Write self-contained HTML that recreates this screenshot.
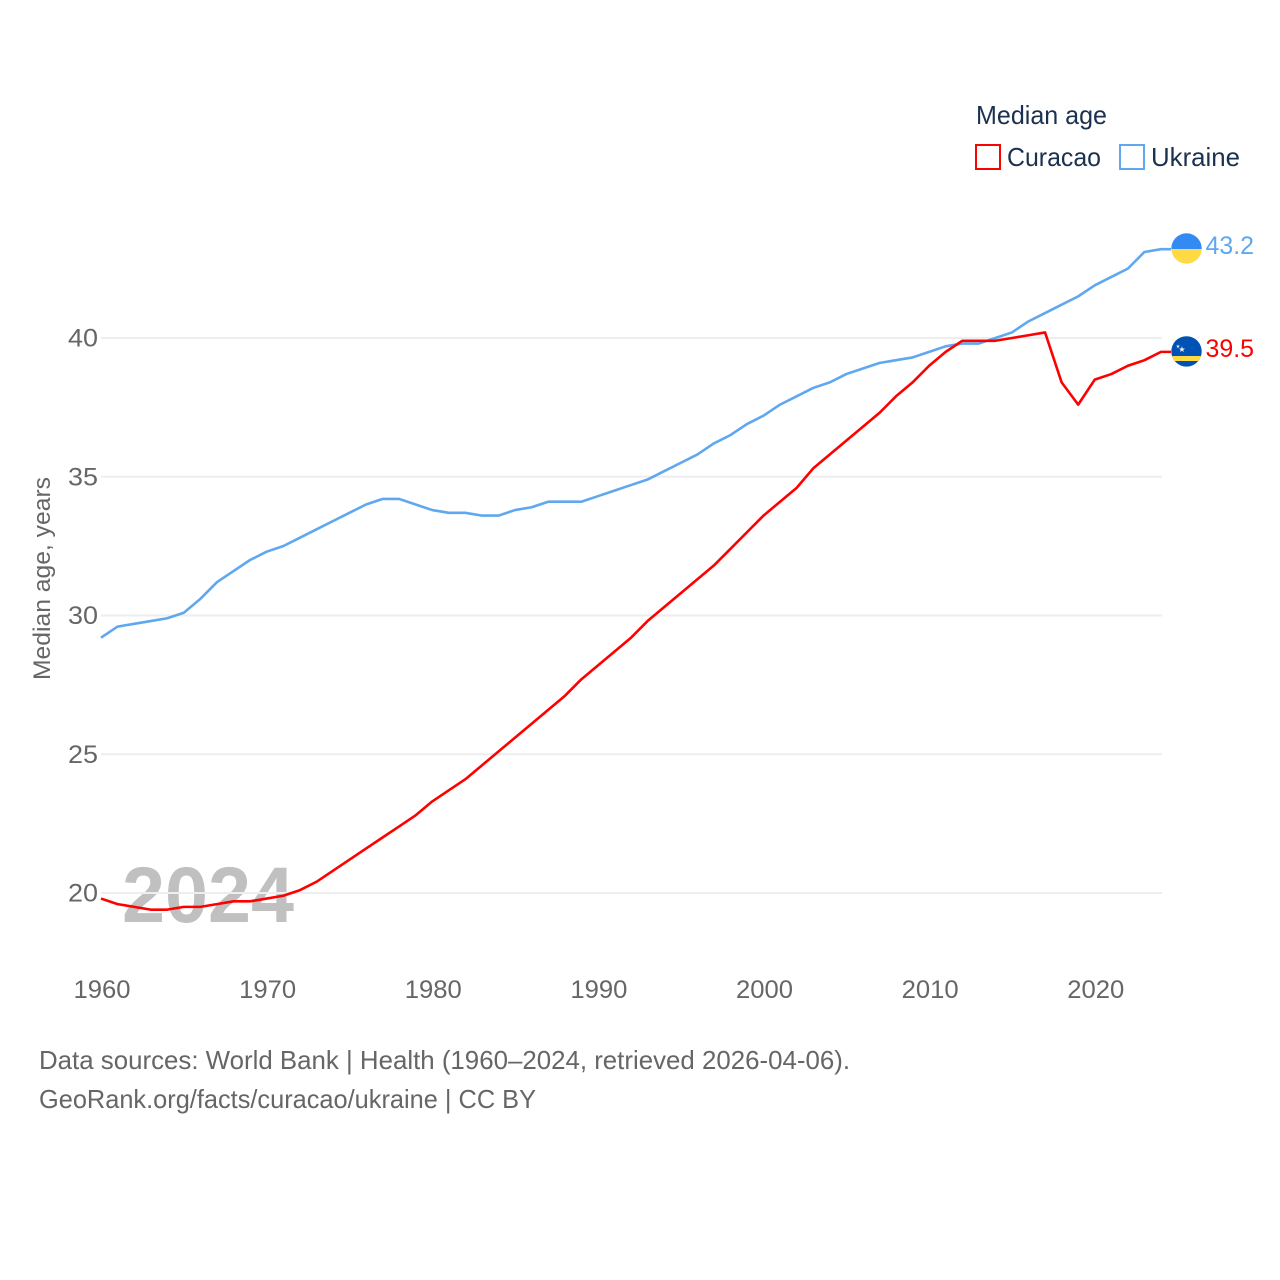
<!DOCTYPE html>
<html lang="en">
<head>
<meta charset="utf-8">
<title>Median age: Curacao vs Ukraine</title>
<style>
html,body{margin:0;padding:0;background:#fff;width:1280px;height:1280px;overflow:hidden}
svg{display:block}
text{font-family:"Liberation Sans",sans-serif}
</style>
</head>
<body>
<svg id="chart" xmlns="http://www.w3.org/2000/svg" width="1280" height="1280" viewBox="0 0 1280 1280">
  <defs>
    <clipPath id="flag-clip-ua"><circle cx="1186.5" cy="248.5" r="15.2"/></clipPath>
    <clipPath id="flag-clip-cw"><circle cx="1186.5" cy="351.4" r="15.2"/></clipPath>
  </defs>
  <text x="122" y="922" font-size="79" font-weight="700" fill="#c0c0c0" textLength="172" lengthAdjust="spacingAndGlyphs">2024</text>
  <g id="grid"></g>
  <g id="yticks"></g>
  <g id="xticks"></g>
  <text transform="translate(50,680) rotate(-90)" font-size="24" fill="#666666" textLength="203" lengthAdjust="spacingAndGlyphs">Median age, years</text>
  <g id="lines"></g>

  <g clip-path="url(#flag-clip-ua)">
    <rect x="1171" y="233" width="31" height="16" fill="#338af3"/>
    <rect x="1171" y="249" width="31" height="16" fill="#ffda44"/>
  </g>
  <g clip-path="url(#flag-clip-cw)">
    <rect x="1171" y="336" width="31" height="31" fill="#0052b4"/>
    <rect x="1171" y="356" width="31" height="5" fill="#ffda44"/>
    <text x="1182" y="352" font-size="8" fill="#f0f0f0" text-anchor="middle">★</text>
    <text x="1178" y="348" font-size="5" fill="#f0f0f0" text-anchor="middle">★</text>
  </g>
  <text id="label-ukraine" x="1205.5" y="254" font-size="25" fill="#5fa8ef" textLength="48.5" lengthAdjust="spacingAndGlyphs"></text>
  <text id="label-curacao" x="1205.5" y="357" font-size="25" fill="#ff0000" textLength="48.5" lengthAdjust="spacingAndGlyphs"></text>

  <text x="976" y="124" font-size="26" fill="#1a3150" textLength="131" lengthAdjust="spacingAndGlyphs">Median age</text>
  <rect x="976" y="145" width="24" height="24" fill="#fff" stroke="#ff0000" stroke-width="2"/>
  <text x="1007" y="166" font-size="26" fill="#1a3150" textLength="94" lengthAdjust="spacingAndGlyphs">Curacao</text>
  <rect x="1120" y="145" width="24" height="24" fill="#fff" stroke="#5fa8ef" stroke-width="2"/>
  <text x="1151" y="166" font-size="26" fill="#1a3150" textLength="89" lengthAdjust="spacingAndGlyphs">Ukraine</text>

  <text x="39" y="1069" font-size="26" fill="#666666" textLength="811" lengthAdjust="spacingAndGlyphs">Data sources: World Bank | Health (1960–2024, retrieved 2026-04-06).</text>
  <text x="39" y="1108" font-size="26" fill="#666666" textLength="497" lengthAdjust="spacingAndGlyphs">GeoRank.org/facts/curacao/ukraine | CC BY</text>
</svg>
<script>
const startYear = 1960;
const curacaoValues = [19.8,19.6,19.5,19.4,19.4,19.5,19.5,19.6,19.7,19.7,19.8,19.9,20.1,20.4,20.8,21.2,21.6,22.0,22.4,22.8,23.3,23.7,24.1,24.6,25.1,25.6,26.1,26.6,27.1,27.7,28.2,28.7,29.2,29.8,30.3,30.8,31.3,31.8,32.4,33.0,33.6,34.1,34.6,35.3,35.8,36.3,36.8,37.3,37.9,38.4,39.0,39.5,39.9,39.9,39.9,40.0,40.1,40.2,38.4,37.6,38.5,38.7,39.0,39.2,39.5];
const ukraineValues = [29.2,29.6,29.7,29.8,29.9,30.1,30.6,31.2,31.6,32.0,32.3,32.5,32.8,33.1,33.4,33.7,34.0,34.2,34.2,34.0,33.8,33.7,33.7,33.6,33.6,33.8,33.9,34.1,34.1,34.1,34.3,34.5,34.7,34.9,35.2,35.5,35.8,36.2,36.5,36.9,37.2,37.6,37.9,38.2,38.4,38.7,38.9,39.1,39.2,39.3,39.5,39.7,39.8,39.8,40.0,40.2,40.6,40.9,41.2,41.5,41.9,42.2,42.5,43.1,43.2];
const yTicks = [20,25,30,35,40];
const xTicks = [1960,1970,1980,1990,2000,2010,2020];

const NS = 'http://www.w3.org/2000/svg';
function xScale(year){ return 101 + (year - 1960) * 16.5625; }
function yScale(v){ return 893 - (v - 20) * 27.75; }
function mk(tag, attrs, parent){
  const el = document.createElementNS(NS, tag);
  for (const k in attrs) el.setAttribute(k, attrs[k]);
  parent.appendChild(el);
  return el;
}
const grid = document.getElementById('grid');
const yG = document.getElementById('yticks');
const xG = document.getElementById('xticks');
const linesG = document.getElementById('lines');

yTicks.forEach(function(t){
  const line = mk('line', {x1:101, x2:1162, y1:yScale(t), y2:yScale(t), stroke:'#eeeeee', 'stroke-width':2}, grid);
  
  
  const label = mk('text', {x:98, y:yScale(t)+8.5, 'text-anchor':'end', 'font-size':25, fill:'#666666', textLength:30, lengthAdjust:'spacingAndGlyphs'}, yG);
  label.textContent = String(t);
  
  
});
xTicks.forEach(function(t){
  const label = mk('text', {x:xScale(t)+1, y:998, 'text-anchor':'middle', 'font-size':25, fill:'#666666', textLength:57, lengthAdjust:'spacingAndGlyphs'}, xG);
  label.textContent = String(t);
  
  
});
function drawSeries(values, color, name){
  const pts = values.map(function(v, i){ return xScale(startYear + i).toFixed(2) + ',' + yScale(v).toFixed(2); });
  const last = values[values.length - 1];
  pts.push('1171,' + yScale(last).toFixed(2));
  const line = mk('polyline', {points:pts.join(' '), fill:'none', stroke:color, 'stroke-width':2.6, 'stroke-linejoin':'round'}, linesG);
  
  
}
drawSeries(ukraineValues, '#5fa8ef', 'line-ukraine');
drawSeries(curacaoValues, '#ff0000', 'line-curacao');
document.getElementById('label-ukraine').textContent = ukraineValues[ukraineValues.length - 1].toFixed(1);
document.getElementById('label-curacao').textContent = curacaoValues[curacaoValues.length - 1].toFixed(1);
</script>
</body>
</html>
